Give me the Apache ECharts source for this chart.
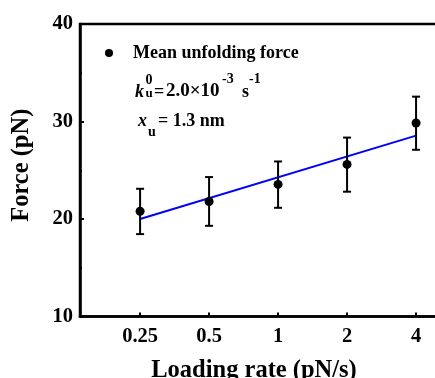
<!DOCTYPE html>
<html>
<head>
<meta charset="utf-8">
<script src="https://cdn.jsdelivr.net/npm/echarts@6/dist/echarts.min.js"></script>
<style>html,body{margin:0;padding:0;background:#fff}#c{width:435px;height:378px}</style>
</head>
<body>
<div id="c"></div>
<script>
// Data
const rates = [0.25, 0.5, 1, 2, 4];               // loading rate (pN/s)
const meanForce = [20.8, 21.8, 23.55, 25.6, 29.85]; // pN
const errHigh = [23.1, 24.3, 25.9, 28.35, 32.55];
const errLow = [18.45, 19.3, 21.15, 22.8, 27.1];
const fitX = [0.25, 4];
const fitY = [20.0, 28.55];
const xTicks = [0.25, 0.5, 1, 2, 4];
const yTicks = [10, 20, 30, 40];

const FONT = '"Liberation Serif", "Times New Roman", serif';
const chart = echarts.init(document.getElementById('c'), null, {renderer: 'canvas'});

const scatterData = rates.map((r, i) => [r, meanForce[i]]);
const errData = rates.map((r, i) => [r, errLow[i], errHigh[i]]);
const fitData = fitX.map((x, i) => [x, fitY[i]]);

function t(text, x, y, font) {
  return {type: 'text', x: x, y: y, silent: true,
    style: {text: text, font: font, fill: '#000', verticalAlign: 'bottom'}};
}

chart.setOption({
  animation: false,
  backgroundColor: '#fff',
  grid: {
    left: 80, top: 24, bottom: 61.5, width: 380,
    outerBoundsMode: 'none', containLabel: false,
    show: true, borderColor: '#000', borderWidth: 2.5, backgroundColor: 'transparent'
  },
  legend: {
    data: ['Mean unfolding force'],
    left: 100, top: 39,
    icon: 'circle', itemWidth: 8, itemHeight: 8,
    textStyle: {fontFamily: FONT, fontWeight: 'bold', fontSize: 18, color: '#000', padding: [0, 0, 0, 15]}
  },
  xAxis: {
    type: 'log', logBase: 2,
    min: 0.1367, max: 6.22,
    name: 'Loading rate (pN/s)', nameLocation: 'middle', nameGap: 42,
    nameTextStyle: {fontFamily: FONT, fontWeight: 'bold', fontSize: 24.5, color: '#000', padding: [0, 32, 0, 0]},
    axisLine: {lineStyle: {color: '#000', width: 2.5}},
    axisTick: {inside: true, length: 4, lineStyle: {width: 2, color: '#000'}, customValues: xTicks},
    axisLabel: {customValues: xTicks, formatter: v => String(v), margin: 10,
      fontFamily: FONT, fontWeight: 'bold', fontSize: 20.5, color: '#000'},
    splitLine: {show: false}, minorTick: {show: false}
  },
  yAxis: {
    type: 'value', min: 10, max: 40, interval: 10,
    name: 'Force (pN)', nameLocation: 'middle', nameGap: 46,
    nameTextStyle: {fontFamily: FONT, fontWeight: 'bold', fontSize: 24.5, color: '#000', padding: [0, 0, 0, 10]},
    axisLine: {show: true, lineStyle: {color: '#000', width: 2.5}},
    axisTick: {show: true, inside: true, length: 4, lineStyle: {width: 2, color: '#000'}},
    minorTick: {show: true, splitNumber: 2, length: 2, lineStyle: {width: 2, color: '#000'}},
    axisLabel: {margin: 7, fontFamily: FONT, fontWeight: 'bold', fontSize: 20.5, color: '#000',
      customValues: yTicks},
    splitLine: {show: false}
  },
  series: [
    {
      name: 'fit', type: 'line', data: fitData, showSymbol: false, symbol: 'none',
      lineStyle: {color: '#0000ff', width: 2}, z: 2
    },
    {
      name: 'err', type: 'custom', data: errData, z: 3,
      renderItem: function (params, api) {
        const x = api.value(0);
        const lo = api.coord([x, api.value(1)]);
        const hi = api.coord([x, api.value(2)]);
        const cw = 4;
        const st = {stroke: '#000', lineWidth: 2};
        return {type: 'group', children: [
          {type: 'line', shape: {x1: lo[0], y1: lo[1], x2: hi[0], y2: hi[1]}, style: st},
          {type: 'line', shape: {x1: lo[0] - cw, y1: lo[1], x2: lo[0] + cw, y2: lo[1]}, style: st},
          {type: 'line', shape: {x1: hi[0] - cw, y1: hi[1], x2: hi[0] + cw, y2: hi[1]}, style: st}
        ]};
      }
    },
    {
      name: 'Mean unfolding force', type: 'scatter', data: scatterData,
      symbol: 'circle', symbolSize: 9, itemStyle: {color: '#000', opacity: 1}, z: 4
    }
  ],
  graphic: [
    t('k', 135, 101, 'italic bold 18px ' + FONT),
    t('0', 145.5, 87, 'bold 14px ' + FONT),
    t('u', 145.5, 100, 'bold 13px ' + FONT),
    t('=', 154, 101, 'bold 18px ' + FONT),
    t('2.0×10', 166, 101, 'bold 19px ' + FONT),
    t('-3', 222, 86, 'bold 14px ' + FONT),
    t('s', 242, 101, 'bold 18px ' + FONT),
    t('-1', 249, 86, 'bold 14px ' + FONT),
    t('x', 138, 130, 'italic bold 18px ' + FONT),
    t('u', 148, 139, 'bold 14px ' + FONT),
    t('= 1.3 nm', 158, 130, 'bold 18px ' + FONT)
  ]
});
</script>
</body>
</html>
